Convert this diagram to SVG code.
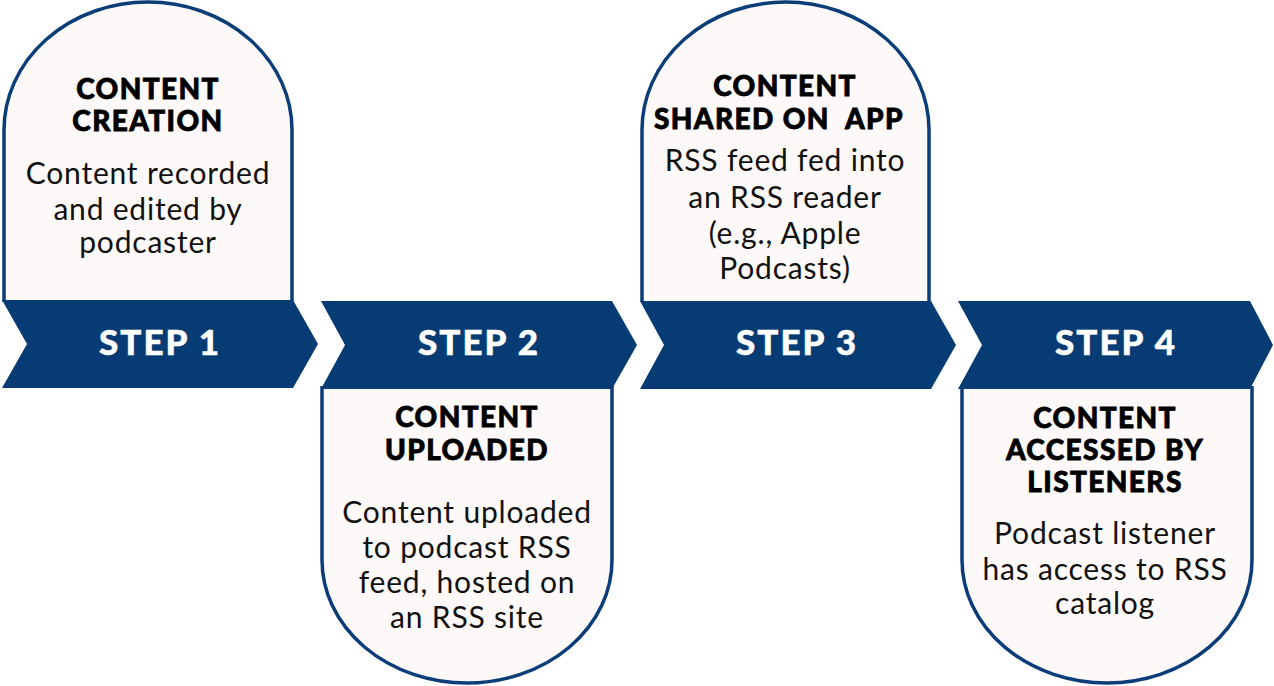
<svg xmlns="http://www.w3.org/2000/svg" width="1274" height="686" viewBox="0 0 1274 686">
<style>
.card{fill:#fdf9f8;stroke:#0b3d78;stroke-width:3.5}
.chev{fill:#063b74}
.title{font-family:Lato,"Liberation Sans",sans-serif;font-weight:900;font-size:28px;fill:#000;stroke:#000;stroke-width:0.8px;text-anchor:middle;letter-spacing:1.4px}
.body{font-family:Lato,"Liberation Sans",sans-serif;font-weight:400;font-size:30px;fill:#111;text-anchor:middle;letter-spacing:0.8px}
.step{font-family:Lato,"Liberation Sans",sans-serif;font-weight:900;font-size:35px;fill:#fff;stroke:#fff;stroke-width:0.5px;text-anchor:middle;letter-spacing:2px}
</style>
<rect width="1274" height="686" fill="#fff"/>
<g id="step1">
<path class="card" d="M4,302 L4,130 A144,128 0 0 1 292,130 L292,302"/>
<polygon class="chev" points="2,300 293,300 318,344 293,388 2,388 27,344"/>
<text class="step" x="160" y="355">STEP 1</text>
<text class="title" x="148" y="99">CONTENT</text>
<text class="title" x="148" y="131">CREATION</text>
<text class="body" x="148" y="184">Content recorded</text>
<text class="body" x="148" y="220">and edited by</text>
<text class="body" x="148" y="253">podcaster</text>
</g>
<g id="step2">
<path class="card" d="M322,386 L322,560 A145,123 0 0 0 612,560 L612,386"/>
<polygon class="chev" points="321,301 612,301 637,345 612,389 321,389 345,345"/>
<text class="step" x="479" y="355">STEP 2</text>
<text class="title" x="467" y="427">CONTENT</text>
<text class="title" x="467" y="460">UPLOADED</text>
<text class="body" x="467" y="523">Content uploaded</text>
<text class="body" x="467" y="558">to podcast RSS</text>
<text class="body" x="467" y="593">feed, hosted on</text>
<text class="body" x="467" y="628">an RSS site</text>
</g>
<g id="step3">
<path class="card" d="M642,302 L642,130 A143.5,128 0 0 1 929,130 L929,302"/>
<polygon class="chev" points="640,301 931,301 956,345 931,389 640,389 664,345"/>
<text class="step" x="797" y="355">STEP 3</text>
<text class="title" x="785" y="96">CONTENT</text>
<text class="title" x="779" y="129" xml:space="preserve">SHARED ON  APP</text>
<text class="body" x="785" y="171">RSS feed fed into</text>
<text class="body" x="785" y="208">an RSS reader</text>
<text class="body" x="785" y="244">(e.g., Apple</text>
<text class="body" x="785" y="279">Podcasts)</text>
</g>
<g id="step4">
<path class="card" d="M962,386 L962,560 A145,123 0 0 0 1252,560 L1252,386"/>
<polygon class="chev" points="958,301 1250,301 1273,345 1250,389 958,389 982,345"/>
<text class="step" x="1116" y="355">STEP 4</text>
<text class="title" x="1105" y="428">CONTENT</text>
<text class="title" x="1105" y="460">ACCESSED BY</text>
<text class="title" x="1105" y="492">LISTENERS</text>
<text class="body" x="1105" y="544">Podcast listener</text>
<text class="body" x="1105" y="580">has access to RSS</text>
<text class="body" x="1105" y="614">catalog</text>
</g>
<g id="connectors"></g>
</svg>
